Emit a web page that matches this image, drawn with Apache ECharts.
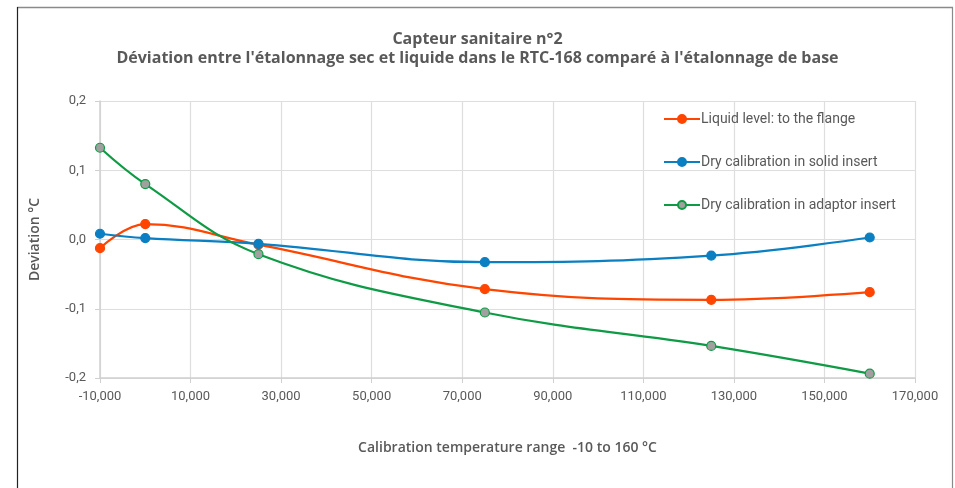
<!DOCTYPE html>
<html>
<head>
<meta charset="utf-8">
<script src="https://cdn.jsdelivr.net/npm/echarts@6/dist/echarts.min.js"></script>
<style>
html,body{margin:0;padding:0;background:#fff;}
#c{width:955px;height:488px;}
</style>
</head>
<body>
<div id="c"></div>
<script>
var temps = [-10, 0, 25, 75, 125, 160];
var liquid = [-0.0125, 0.0223, -0.0075, -0.0717, -0.0871, -0.0761];
var drySolid = [0.0083, 0.0020, -0.0062, -0.0328, -0.0232, 0.0029];
var dryAdaptor = [0.1325, 0.0800, -0.0212, -0.1054, -0.1537, -0.1937];
var seriesNames = ['Liquid level: to the flange', 'Dry calibration in solid insert', 'Dry calibration in adaptor insert'];
var titleLines = ['Capteur sanitaire n°2', "Déviation entre l'étalonnage sec et liquide dans le RTC-168 comparé à l'étalonnage de base"];
var xTitle = 'Calibration temperature range  -10 to 160 °C';
var yTitle = 'Deviation °C';

function pairs(arr){ return temps.map(function(t,i){ return [t, arr[i]]; }); }

var chart = echarts.init(document.getElementById('c'));
var gray = '#595959';
var mk = function(name, data, line, fill, border){
  return {
    name: name, type: 'line', data: pairs(data), smooth: 0.4,
    symbol: 'circle', symbolSize: 9,
    lineStyle: {color: line, width: 2.25},
    itemStyle: {color: fill, borderColor: border, borderWidth: 1.2},
    emphasis: {disabled: true}
  };
};
chart.setOption({
  animation: false,
  backgroundColor: '#fff',
  graphic: [
    {type: 'line', shape: {x1: 17, y1: 7.5, x2: 953, y2: 7.5}, style: {stroke: '#8a8a8a', lineWidth: 1.5}},
    {type: 'line', shape: {x1: 17.5, y1: 7, x2: 17.5, y2: 488}, style: {stroke: '#222', lineWidth: 1.2}},
    {type: 'line', shape: {x1: 952.5, y1: 7, x2: 952.5, y2: 488}, style: {stroke: '#8a8a8a', lineWidth: 1.2}}
  ],
  title: {
    text: titleLines[0] + '\n' + titleLines[1],
    left: 'center', top: 25,
    textStyle: {fontFamily: '"Open Sans", sans-serif', fontWeight: 'bold', fontSize: 16, color: gray, lineHeight: 19}
  },
  legend: {
    orient: 'vertical', left: 658, top: 107, itemGap: 29, itemWidth: 36, itemHeight: 10,
    data: seriesNames,
    textStyle: {fontFamily: 'Roboto, sans-serif', fontSize: 14, color: gray, padding: [0,0,0,-4]}
  },
  grid: {left: 100, right: 40, top: 101, bottom: 110},
  xAxis: {
    type: 'value', min: -10, max: 170, interval: 20,
    name: xTitle, nameLocation: 'middle', nameGap: 63,
    nameTextStyle: {fontFamily: '"Open Sans", sans-serif', fontSize: 14, fontWeight: 600, color: gray},
    axisLine: {show: true, onZero: false, lineStyle: {color: '#d0d0d0', width: 1.5}},
    axisTick: {show: true, length: 5, lineStyle: {color: '#d0d0d0'}},
    splitLine: {show: true, lineStyle: {color: '#dedede', width: 1.2}},
    axisLabel: {margin: 12, fontFamily: 'Roboto, sans-serif', fontSize: 13, color: gray,
      formatter: function(v){ return v.toFixed(3).replace('.', ','); }}
  },
  yAxis: {
    type: 'value', min: -0.2, max: 0.2, interval: 0.1,
    name: yTitle, nameLocation: 'middle', nameGap: 58, nameRotate: 90,
    nameTextStyle: {fontFamily: '"Open Sans", sans-serif', fontSize: 14, fontWeight: 600, color: gray},
    axisLine: {show: true, onZero: false, lineStyle: {color: '#d0d0d0', width: 1.5}},
    axisTick: {show: true, length: 5, lineStyle: {color: '#d0d0d0'}},
    splitLine: {show: true, lineStyle: {color: '#dedede', width: 1.2}},
    axisLabel: {margin: 14, fontFamily: 'Roboto, sans-serif', fontSize: 13, color: gray,
      formatter: function(v){ return v.toFixed(1).replace('.', ','); }}
  },
  series: [
    mk(seriesNames[0], liquid, '#ff4500', '#ff4500', '#ff4500'),
    mk(seriesNames[1], drySolid, '#0a7fc2', '#0a7fc2', '#0a7fc2'),
    mk(seriesNames[2], dryAdaptor, '#0f9b45', '#a0a0a0', '#0f9b45')
  ]
});
</script>
</body>
</html>
